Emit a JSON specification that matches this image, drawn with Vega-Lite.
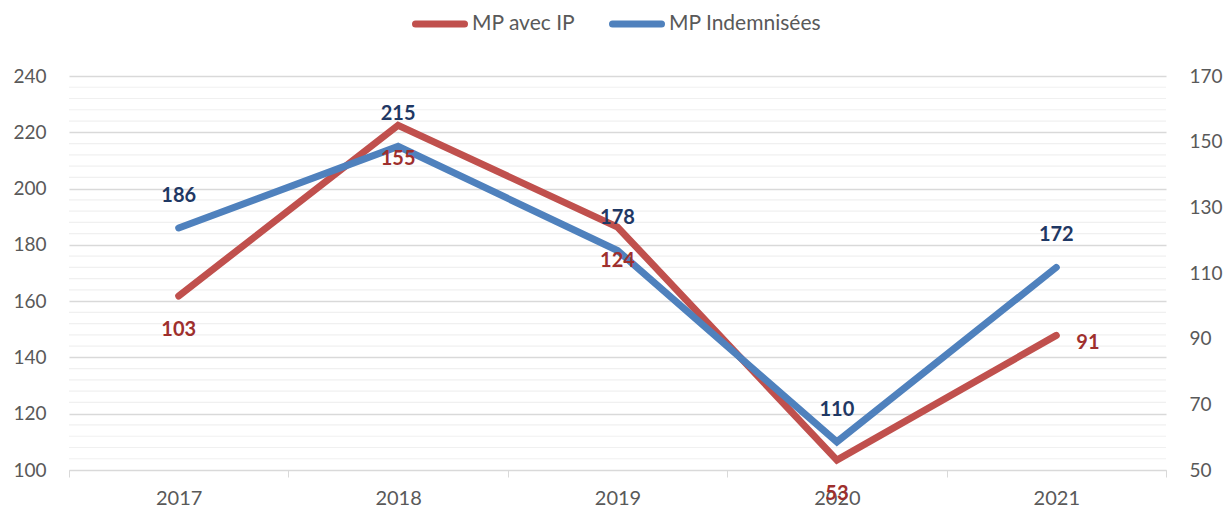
{
  "$schema": "https://vega.github.io/schema/vega-lite/v6.json",
  "autosize": {"type": "none"},
  "width": 1097,
  "height": 394,
  "padding": {"left": 69, "top": 76, "right": 61, "bottom": 40},
  "background": "#ffffff",
  "config": {
    "view": {"stroke": null},
    "font": "Lato",
    "legend": {
      "orient": "none",
      "legendX": 343,
      "legendY": -80,
      "direction": "horizontal",
      "symbolType": "stroke",
      "symbolSize": 2401,
      "symbolStrokeWidth": 7,
      "labelFontSize": 21,
      "labelColor": "#595959",
      "labelFont": "Lato",
      "columnPadding": 22,
      "labelOffset": 4,
      "padding": 0
    }
  },
  "datasets": {
    "main": [
      {"year": "2017", "series": "MP avec IP", "value": 103},
      {"year": "2018", "series": "MP avec IP", "value": 155},
      {"year": "2019", "series": "MP avec IP", "value": 124},
      {"year": "2020", "series": "MP avec IP", "value": 53},
      {"year": "2021", "series": "MP avec IP", "value": 91},
      {"year": "2017", "series": "MP Indemnisées", "value": 186},
      {"year": "2018", "series": "MP Indemnisées", "value": 215},
      {"year": "2019", "series": "MP Indemnisées", "value": 178},
      {"year": "2020", "series": "MP Indemnisées", "value": 110},
      {"year": "2021", "series": "MP Indemnisées", "value": 172}
    ],
    "minor": [
      {"g": 104}, {"g": 108}, {"g": 112}, {"g": 116},
      {"g": 124}, {"g": 128}, {"g": 132}, {"g": 136},
      {"g": 144}, {"g": 148}, {"g": 152}, {"g": 156},
      {"g": 164}, {"g": 168}, {"g": 172}, {"g": 176},
      {"g": 184}, {"g": 188}, {"g": 192}, {"g": 196},
      {"g": 204}, {"g": 208}, {"g": 212}, {"g": 216},
      {"g": 224}, {"g": 228}, {"g": 232}, {"g": 236}
    ]
  },
  "resolve": {"scale": {"y": "independent"}},
  "layer": [
    {
      "data": {"name": "minor"},
      "mark": {"type": "rule", "color": "#f0f0f0", "strokeWidth": 1.2},
      "encoding": {
        "y": {"field": "g", "type": "quantitative", "scale": {"domain": [100, 240], "zero": false, "nice": false}, "axis": null}
      }
    },
    {
      "data": {"name": "main"},
      "transform": [{"filter": "datum.series === 'MP avec IP'"}],
      "mark": {"type": "line", "strokeWidth": 7, "strokeCap": "round", "strokeJoin": "miter"},
      "encoding": {
        "x": {
          "field": "year", "type": "nominal", "bandPosition": 0.5,
          "scale": {"type": "band", "paddingInner": 0, "paddingOuter": 0},
          "axis": {
            "title": null, "labelAngle": 0, "labelFontSize": 20, "labelColor": "#595959", "labelFont": "Lato",
            "tickBand": "extent", "tickColor": "#d9d9d9", "tickSize": 7, "domainColor": "#d9d9d9",
            "grid": false, "labelPadding": 11
          }
        },
        "y": {
          "field": "value", "type": "quantitative",
          "scale": {"domain": [50, 170], "zero": false, "nice": false},
          "axis": {
            "orient": "right", "title": null, "values": [50, 70, 90, 110, 130, 150, 170],
            "grid": false, "domain": false, "ticks": false, "labelPadding": 23,
            "labelFontSize": 19, "labelColor": "#595959", "labelFont": "Lato"
          }
        },
        "color": {
          "field": "series", "type": "nominal",
          "scale": {"domain": ["MP avec IP", "MP Indemnisées"], "range": ["#c0504d", "#4f81bd"]},
          "legend": {"title": null, "symbolStrokeWidth": 7, "encode": {"symbols": {"update": {"strokeCap": {"value": "round"}}}}}
        }
      }
    },
    {
      "data": {"name": "main"},
      "transform": [{"filter": "datum.series === 'MP Indemnisées'"}],
      "mark": {"type": "line", "strokeWidth": 7, "strokeCap": "round", "strokeJoin": "miter"},
      "encoding": {
        "x": {"field": "year", "type": "nominal", "bandPosition": 0.5},
        "y": {
          "field": "value", "type": "quantitative",
          "scale": {"domain": [100, 240], "zero": false, "nice": false},
          "axis": {
            "orient": "left", "title": null, "values": [100, 120, 140, 160, 180, 200, 220, 240],
            "grid": true, "gridColor": "#d9d9d9", "gridWidth": 1.3, "domain": false, "ticks": false, "labelPadding": 23,
            "labelFontSize": 19, "labelColor": "#595959", "labelFont": "Lato"
          }
        },
        "color": {"field": "series", "type": "nominal"}
      }
    },
    {
      "data": {"name": "main"},
      "transform": [{"filter": "datum.series === 'MP avec IP' && datum.year !== '2021'"}],
      "mark": {"type": "text", "dy": 34, "fontSize": 20, "fontWeight": "bold", "font": "Lato", "color": "#9e2f2d", "baseline": "middle"},
      "encoding": {
        "x": {"field": "year", "type": "nominal", "bandPosition": 0.5},
        "y": {"field": "value", "type": "quantitative", "scale": {"domain": [50, 170], "zero": false, "nice": false}, "axis": null},
        "text": {"field": "value", "type": "quantitative"}
      }
    },
    {
      "data": {"name": "main"},
      "transform": [{"filter": "datum.series === 'MP avec IP' && datum.year === '2021'"}],
      "mark": {"type": "text", "dx": 20, "dy": 8, "align": "left", "fontSize": 20, "fontWeight": "bold", "font": "Lato", "color": "#9e2f2d", "baseline": "middle"},
      "encoding": {
        "x": {"field": "year", "type": "nominal", "bandPosition": 0.5},
        "y": {"field": "value", "type": "quantitative", "scale": {"domain": [50, 170], "zero": false, "nice": false}, "axis": null},
        "text": {"field": "value", "type": "quantitative"}
      }
    },
    {
      "data": {"name": "main"},
      "transform": [{"filter": "datum.series === 'MP Indemnisées'"}],
      "mark": {"type": "text", "dy": -32, "fontSize": 20, "fontWeight": "bold", "font": "Lato", "color": "#1f3864", "baseline": "middle"},
      "encoding": {
        "x": {"field": "year", "type": "nominal", "bandPosition": 0.5},
        "y": {"field": "value", "type": "quantitative", "scale": {"domain": [100, 240], "zero": false, "nice": false}, "axis": null},
        "text": {"field": "value", "type": "quantitative"}
      }
    }
  ]
}
